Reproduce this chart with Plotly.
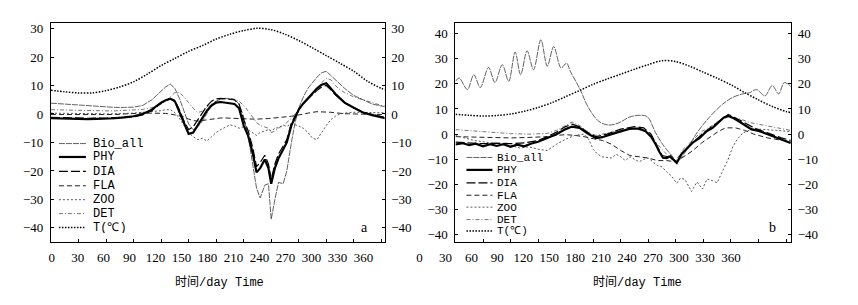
import plotly.graph_objects as go

W, H = 858, 305

# ---------------- data: panel a ----------------
days_a = [0,10,20,30,40,50,60,70,80,90,100,
          110,115,120,125,130,135,140,145,150,155,160,165,170,175,180,185,190,195,200,205,210,215,220,
          224,228,233,237,240,244,248,253,257,262,266,270,
          275,280,285,290,295,300,305,310,315,320,
          330,340,350,360,365]
phy_a = [-1.5,-1.6,-1.7,-1.7,-1.8,-1.7,-1.7,-1.5,-1.2,-0.8,0.0,
         1.5,2.8,4.0,4.8,5.4,4.5,0.5,-3.5,-7.0,-6.5,-4.0,-1.5,1.2,3.0,4.0,4.2,4.0,3.8,3.5,2.0,-4.0,-7.8,-14.0,
         -20.5,-19.0,-16.0,-19.0,-24.5,-19.0,-15.5,-12.5,-10.0,-4.0,-1.0,1.5,
         3.7,5.5,7.5,9.0,10.3,10.8,9.0,7.0,5.5,4.0,
         2.2,0.5,-0.4,-1.3,-1.5]
dia_a = [-1.2,-1.3,-1.4,-1.4,-1.5,-1.4,-1.5,-1.3,-1.2,-1.0,-0.3,
         1.2,2.5,3.8,4.6,5.4,4.8,1.5,-2.5,-5.5,-4.5,-2.0,0.5,2.8,4.5,5.3,5.5,5.4,5.2,5.0,3.5,-2.0,-6.0,-12.0,
         -18.5,-17.0,-14.5,-17.5,-23.0,-17.5,-14.0,-11.0,-9.0,-3.2,-0.5,1.8,
         3.7,5.3,7.0,8.3,9.5,10.0,8.5,6.7,5.3,3.9,
         2.2,0.6,-0.2,-1.1,-1.3]
fla_a = [-0.2,-0.2,-0.3,-0.3,-0.3,-0.3,-0.2,-0.2,0.0,0.2,0.3,
         0.3,0.3,0.2,0.2,0.0,-0.3,-0.6,-1.0,-1.8,-2.3,-2.5,-2.3,-2.0,-1.7,-1.5,-1.4,-1.4,-1.5,-1.6,-1.7,-1.8,-1.8,-1.8,
         -1.8,-1.8,-1.7,-1.6,-1.5,-1.4,-1.3,-1.2,-1.0,-0.8,-0.6,-0.3,
         0.0,0.3,0.6,0.8,0.8,0.8,0.6,0.4,0.2,0.1,
         0.0,-0.1,-0.2,-0.2,-0.2]
zoo_a = [0.3,0.3,0.2,0.2,0.1,0.1,0.0,0.0,0.2,0.3,0.5,
         0.8,1.0,1.2,1.5,1.5,0.5,-1.5,-4.0,-6.5,-8.0,-9.0,-8.5,-9.5,-8.0,-6.5,-5.5,-4.5,-3.8,-4.2,-5.0,-4.5,-5.5,-6.5,
         -7.5,-6.5,-6.0,-5.5,-6.0,-5.0,-4.8,-4.0,-4.3,-3.5,-3.8,-4.2,
         -5.0,-6.5,-8.5,-9.0,-6.5,-4.0,-2.0,-0.8,0.0,0.3,
         0.6,0.6,0.5,0.4,0.4]
det_a = [1.5,1.4,1.3,1.2,1.2,1.1,1.1,1.1,1.2,1.3,1.6,
         2.2,2.8,3.5,4.5,6.0,7.5,7.5,6.0,4.0,2.0,0.5,1.0,2.5,3.5,4.5,5.0,5.5,5.5,5.2,4.5,3.0,1.0,-1.0,
         -3.0,-4.0,-4.5,-5.0,-6.5,-6.0,-5.0,-4.0,-3.0,-1.5,0.0,1.5,
         3.0,5.0,7.0,9.0,11.0,12.5,12.0,10.0,8.5,7.5,
         6.0,5.0,4.0,3.0,2.8]
bio_a = [3.8,3.6,3.3,3.0,2.8,2.6,2.4,2.3,2.3,2.4,3.0,
         5.0,6.5,8.0,9.5,10.5,9.0,5.5,1.0,-3.5,-5.5,-4.5,-2.5,0.5,3.0,4.5,5.3,5.5,5.3,5.0,3.5,-1.0,-8.0,-18.0,
         -26.0,-29.5,-25.0,-24.5,-37.0,-30.0,-24.0,-24.5,-20.0,-10.0,-3.0,2.0,
         6.0,9.0,11.0,13.0,14.5,15.0,13.5,12.0,10.5,9.0,
         6.5,5.0,3.5,2.8,2.5]

t_days = [0,15,30,45,60,75,90,105,120,135,150,165,180,195,210,225,240,255,270,285,300,315,330,345,360,365]
temp_a = [8.3,7.8,7.4,7.4,8.2,9.5,11.3,14.0,17.0,19.5,22.0,24.0,26.3,28.0,29.3,30.1,29.6,28.0,25.8,23.2,20.5,17.8,15.0,11.5,9.0,8.5]
temp_b = [7.9,7.5,7.2,7.4,8.0,9.1,10.6,12.5,14.9,17.3,19.8,21.9,23.8,25.8,27.6,29.2,28.8,27.0,24.6,22.2,19.6,16.5,13.6,11.0,9.0,8.6]

# ---------------- data: panel b ----------------
phy_b_days = [0,8,15,22,30,38,45,52,60,67,75,82,90,100,110,120,127,135,145,153,
              160,170,180,190,200,207,213,218,222,226,230,234,237,241,246,251,258,266,273,280,
              286,292,297,303,309,315,322,331,340,352,358,365]
phy_b = [-4.1,-3.6,-4.4,-3.8,-4.8,-4.0,-4.7,-4.0,-5.0,-4.2,-4.8,-3.8,-3.0,-1.5,0.0,2.0,3.0,2.5,0.0,-1.6,
         -1.2,0.0,1.2,2.2,2.2,1.2,-1.0,-4.0,-7.0,-9.4,-9.5,-8.8,-10.0,-11.4,-8.0,-6.0,-3.5,-1.5,1.0,2.5,
         4.5,6.5,7.2,6.3,5.0,3.5,2.0,1.2,0.0,-1.5,-2.5,-3.5]
dia_b_days = [0,15,30,45,60,75,90,100,110,120,127,135,145,153,165,180,195,205,213,218,
              225,232,241,248,258,270,285,297,310,325,340,355,365]
dia_b = [-3.2,-3.5,-3.8,-3.6,-3.8,-3.5,-2.5,-1.0,0.8,3.0,4.0,3.0,0.5,-1.0,0.0,2.0,3.0,2.5,0.0,-3.5,
         -8.5,-9.0,-11.0,-7.0,-3.5,0.5,4.5,7.8,5.5,2.5,0.5,-1.5,-2.5]
fla_b_days = [0,20,40,60,80,100,110,120,130,140,150,160,170,180,190,200,210,220,230,240,
              248,258,268,276,286,294,305,315,325,340,355,365]
fla_b = [-1.0,-1.2,-1.5,-1.5,-1.3,-1.0,-0.5,-0.2,-0.5,-1.0,-1.8,-2.5,-4.0,-6.5,-8.5,-9.0,-9.5,-10.5,-10.5,-11.0,
         -9.0,-6.7,-3.5,-1.5,1.0,2.5,2.5,1.5,0.0,-1.5,-2.5,-3.0]
zoo_b_days = [0,10,20,30,40,50,60,70,80,90,100,110,120,130,140,145,150,155,160,
              170,175,180,185,190,195,200,205,210,215,220,225,230,235,241,245,250,257,263,269,
              274,280,285,291,297,302,307,313,320,330,340,350,365]
zoo_b = [-0.5,-1.5,-2.5,-3.0,-3.5,-4.0,-4.5,-5.5,-5.0,-6.0,-6.5,-4.0,-2.0,-0.5,0.0,-2.0,-6.0,-8.0,-9.0,
         -9.5,-8.0,-9.0,-10.5,-9.0,-10.0,-11.0,-10.0,-9.5,-11.0,-12.5,-13.0,-15.0,-16.5,-19.5,-17.5,-18.0,-22.8,-19.0,-21.8,
         -17.8,-18.5,-19.3,-14.6,-10.0,-5.0,-2.0,0.5,1.5,2.0,1.8,1.5,1.0]
det_b_days = [0,20,40,60,80,100,110,120,127,135,145,153,165,180,195,205,213,220,230,240,
              248,258,268,280,290,298,310,322,335,350,365]
det_b = [1.8,1.2,0.6,0.2,0.0,0.3,1.5,3.5,4.8,3.5,0.5,-0.5,0.5,1.5,2.0,1.5,-0.5,-4.0,-8.0,-10.5,
         -6.0,-2.5,1.0,3.5,6.0,7.0,6.0,4.5,3.5,2.5,1.5]
bio_b_days = [0,4,13,20,27,36,43,51,58,65,71,78,85,93,100,107,115,121,125,135,
              145,156,167,178,189,200,209,218,227,236,241,251,262,276,291,302,313,320,328,337,
              345,352,358,365]
bio_b = [21,22.3,17.7,23.6,18.5,26.5,20.5,27.6,21,32.6,23.6,33.1,25.6,37.5,27,34.8,26.3,28.2,25,18.3,
         10.4,5.1,3.6,4.5,6.7,7.5,6.9,0.5,-4.8,-8.7,-11,-6.7,0,6.5,11.9,14.6,16,16.4,17.7,15.2,
         19.3,16,20.5,19]

x_ticks = [0,30,60,90,120,150,180,210,240,270,300,330,360]
y_ticks_a = [-40,-30,-20,-10,0,10,20,30]
y_ticks_b = [-40,-30,-20,-10,0,10,20,30,40]
legend_names = ["Bio_all", "PHY", "DIA", "FLA", "ZOO", "DET", "T(℃)"]

# ---------------- styles ----------------
STY = {
    "Bio_all": dict(color="#3a3a3a", width=0.8, dash="6px,1px"),
    "PHY":     dict(color="black", width=2.2, dash="solid"),
    "DIA":     dict(color="black", width=1.2, dash="9px,3px"),
    "FLA":     dict(color="#222", width=1.0, dash="5px,3px"),
    "ZOO":     dict(color="#444", width=0.9, dash="2px,2px"),
    "DET":     dict(color="#555", width=0.8, dash="4px,2px,1px,2px"),
    "T(℃)":    dict(color="black", width=1.5, dash="1.5px,1.5px"),
}
SMOOTH = {"T(℃)"}

def px(x):
    return x / W

def py(y):
    return 1 - y / H

fig = go.Figure()

panel_a = [("T(℃)", t_days, temp_a), ("FLA", days_a, fla_a), ("ZOO", days_a, zoo_a),
           ("DET", days_a, det_a), ("Bio_all", days_a, bio_a), ("DIA", days_a, dia_a),
           ("PHY", days_a, phy_a)]
panel_b = [("T(℃)", t_days, temp_b), ("FLA", fla_b_days, fla_b), ("ZOO", zoo_b_days, zoo_b),
           ("DET", det_b_days, det_b), ("Bio_all", bio_b_days, bio_b), ("DIA", dia_b_days, dia_b),
           ("PHY", phy_b_days, phy_b)]

for panel, xa, ya in [(panel_a, "x", "y"), (panel_b, "x2", "y2")]:
    for name, xs, ys in panel:
        line = dict(STY[name])
        if name in SMOOTH or (xa == "x2" and name == "Bio_all"):
            line.update(shape="spline", smoothing=0.9)
        fig.add_trace(go.Scatter(x=xs, y=ys, mode="lines", line=line, name=name,
                                 showlegend=False, xaxis=xa, yaxis=ya, hoverinfo="skip"))

# empty traces so the helper axes exist
for xa, ya in [("x3", "y"), ("x4", "y2"), ("x", "y3"), ("x2", "y4")]:
    fig.add_trace(go.Scatter(x=[], y=[], xaxis=xa, yaxis=ya, showlegend=False))

tick_font = dict(family="Liberation Serif, Times New Roman, serif", size=13, color="black")
ydom = [py(242), py(21)]
ax_common = dict(showgrid=False, zeroline=False, showline=True, linecolor="black", linewidth=1,
                 ticks="inside", ticklen=3, tickcolor="black", tickwidth=1, tickfont=tick_font)

# label axes: tick labels of the original are laid out on a slightly compressed scale
PAD = 10  # days of padding so the "0" label is well inside the axis
lab_a0, lab_a_scale = 51.7, 0.8675
lab_b0, lab_b_scale = 420.0, 0.866

fig.update_layout(
    width=W, height=H, margin=dict(l=0, r=0, t=0, b=0),
    paper_bgcolor="white", plot_bgcolor="rgba(0,0,0,0)", showlegend=False,
    xaxis=dict(**ax_common, domain=[px(51), px(385)], range=[0, 363.5], anchor="y",
               tickvals=x_ticks[1:], showticklabels=False, mirror=True),
    xaxis2=dict(**ax_common, domain=[px(456), px(792)], range=[0, 365.5], anchor="y2",
                tickvals=x_ticks[1:], showticklabels=False, mirror=True),
    xaxis3=dict(domain=[px(lab_a0 - PAD * lab_a_scale), px(lab_a0 + 370 * lab_a_scale)],
                range=[-PAD, 370], anchor="y",
                showgrid=False, zeroline=False, showline=False, ticks="",
                tickvals=x_ticks, tickfont=tick_font, ticklabelstandoff=6),
    xaxis4=dict(domain=[px(lab_b0 - PAD * lab_b_scale), px(lab_b0 + 370 * lab_b_scale)],
                range=[-PAD, 370], anchor="y2",
                showgrid=False, zeroline=False, showline=False, ticks="",
                tickvals=x_ticks, tickfont=tick_font, ticklabelstandoff=6),
    yaxis=dict(**ax_common, domain=ydom, range=[-45.1, 32], anchor="x",
               tickvals=y_ticks_a, ticklabelstandoff=4),
    yaxis3=dict(**ax_common, range=[-45.1, 32], anchor="x", overlaying="y", side="right",
                tickvals=y_ticks_a, ticklabelstandoff=3),
    yaxis2=dict(**ax_common, domain=ydom, range=[-43.0, 44.2], anchor="x2",
                tickvals=y_ticks_b, ticklabelstandoff=4),
    yaxis4=dict(**ax_common, range=[-43.0, 44.2], anchor="x2", overlaying="y2", side="right",
                tickvals=y_ticks_b, ticklabelstandoff=3),
)

# ---------------- manual legends ----------------
legends = [
    dict(x0=59, x1=86, xt=92, size=12, rows=[142.5, 156, 170.5, 185, 199, 213, 227]),
    dict(x0=467, x1=493, xt=497, size=11, rows=[156.5, 169, 182, 194.5, 206.5, 219, 230.5]),
]
for lg in legends:
    leg_font = dict(family="Liberation Mono, DejaVu Sans Mono, monospace", size=lg["size"], color="black")
    for name, yy in zip(legend_names, lg["rows"]):
        s = STY[name]
        fig.add_shape(type="line", xref="paper", yref="paper",
                      x0=px(lg["x0"]), x1=px(lg["x1"]), y0=py(yy), y1=py(yy),
                      line=dict(color=s["color"], width=s["width"], dash=s["dash"]))
        fig.add_annotation(text=name, xref="paper", yref="paper", x=px(lg["xt"]), y=py(yy),
                           xanchor="left", yanchor="middle", showarrow=False, font=leg_font,
                           height=11, borderpad=0)

# panel letters and axis titles
letter_font = dict(family="Liberation Serif, serif", size=14, color="black")
fig.add_annotation(text="a", xref="paper", yref="paper", x=px(365), y=py(227),
                   xanchor="center", yanchor="middle", showarrow=False, font=letter_font)
fig.add_annotation(text="b", xref="paper", yref="paper", x=px(773), y=py(227),
                   xanchor="center", yanchor="middle", showarrow=False, font=letter_font)
title_font = dict(family="Liberation Mono, Noto Sans CJK SC, monospace", size=12, color="black")
for cx in (220, 638):
    fig.add_annotation(text="时间/day Time", xref="paper", yref="paper", x=px(cx), y=py(282),
                       xanchor="center", yanchor="middle", showarrow=False, font=title_font)

fig.write_html("out.html", config={"displayModeBar": False},
               post_script="document.body.style.margin='0';")
